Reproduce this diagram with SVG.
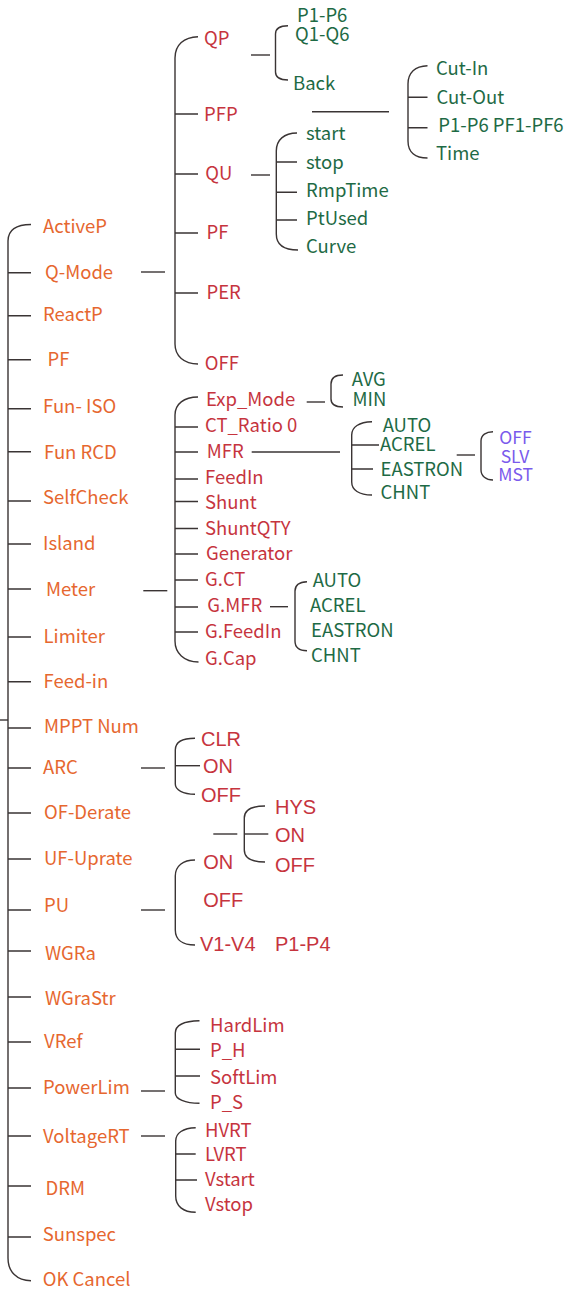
<svg xmlns="http://www.w3.org/2000/svg" width="568" height="1294" viewBox="0 0 568 1294">
<style>
text{font-family:"Noto Sans CJK SC","Noto Sans",sans-serif;font-size:18.5px}
.m{fill:#E6672F}
.r{fill:#C6343E}
.g{fill:#1E6A45}
.p{fill:#7A5AEC;font-size:17.5px}
.a{fill:#C6343E;font-family:"Liberation Sans",Arial,sans-serif;font-size:20px}
.l{fill:none;stroke:#3a3434;stroke-width:1.4}
</style>
<rect width="568" height="1294" fill="#fff"/>
<g id="connectors" class="l">
<path d="M31,224.5 C16,224.5 8,230 8,241 V1258 C8,1272 17,1280.7 31,1280.7"/>
<path d="M0,720 H8"/>
<path d="M8,272.7 H31 M8,315.7 H31 M8,359.7 H31 M8,408.7 H31 M8,451.7 H31 M8,501 H31 M8,544 H31 M8,589 H31 M8,637 H31 M8,681.7 H31 M8,728 H31 M8,768 H31 M8,813 H31 M8,859 H31 M8,910 H31 M8,951 H31 M8,997 H31 M8,1042 H31 M8,1088 H31 M8,1136 H31 M8,1186 H31 M8,1237 H31"/>
<path d="M141,272 H165"/>
<path d="M198,36.7 C184,37 175,45 175,58 V344 C175,356 184,364 198,364"/>
<path d="M175,114 H198 M175,174 H198 M175,233 H198 M175,293 H198"/>
<path d="M251,55 H270"/>
<path d="M288,25.7 C280,25.7 275.5,28 275.5,34 V72 C275.5,77 280,80 288,80"/>
<path d="M312,111.7 H389"/>
<path d="M427.5,65.7 C415,66 408,73 408,84 V141 C408,152 415,158 427.5,158"/>
<path d="M408,97.3 H427.5 M408,127.7 H427.5"/>
<path d="M251,175 H270"/>
<path d="M297,133 C284,133 276.3,140 276.3,151 V234 C276.3,245 284,250 298,250"/>
<path d="M276.3,162 H297 M276.3,192.3 H297 M276.3,220 H297"/>
<path d="M143.3,590.7 H167.3"/>
<path d="M198,397 C184,397 175,404 175,415 V641 C175,653 184,662 198.5,662"/>
<path d="M175,427 H198 M175,452 H198 M175,479 H198 M175,501.5 H198 M175,528.5 H198 M175,554 H198 M175,580 H198 M175,607 H198 M175,632 H198"/>
<path d="M306.7,402 H325"/>
<path d="M343,375 C335,375 331,378 331,384 V399 C331,404 335,407 343,407"/>
<path d="M251.7,452 H340"/>
<path d="M372,421.7 C359,422 351.7,427 351.7,435 V482 C351.7,490 359,495 372,495"/>
<path d="M351.7,445 H379 M351.7,469 H373"/>
<path d="M456.7,455 H475"/>
<path d="M493,431.7 C486,431.7 481,435 481,441 V470 C481,476 486,480 493,480"/>
<path d="M270,606.7 H288"/>
<path d="M307,581.7 C299,582 295,585 295,591 V641 C295,647 299,650.7 307,650.7"/>
<path d="M141,768 H165"/>
<path d="M195,738.3 C183,738.3 175.3,742 175.3,750 V784 C175.3,790 183,794.3 195,794.3"/>
<path d="M175.3,765.7 H200"/>
<path d="M213.3,834 H237.3"/>
<path d="M265,806 C252,806 244.3,810 244.3,818 V850 C244.3,858 252,862 265,862"/>
<path d="M244.3,834 H268.3"/>
<path d="M141,910 H165"/>
<path d="M195,860 C183,860 175.3,866 175.3,876 V930 C175.3,940 183,945 195,945"/>
<path d="M141,1091 H165"/>
<path d="M199.5,1020.7 C185,1021 175.3,1025 175.3,1033 V1093 C175.3,1099 185,1103.3 199.5,1103.3"/>
<path d="M175.3,1049.3 H200 M175.3,1076 H200"/>
<path d="M141,1136 H165"/>
<path d="M195.7,1127.7 C183,1128 175.7,1133 175.7,1141 V1196 C175.7,1206 183,1212.3 195.7,1212.3"/>
<path d="M175.7,1154 H195.7 M175.7,1180 H197"/>
</g>
<g id="main">
<g id="n-activep"><text class="m" x="43" y="233">ActiveP</text></g>
<g id="n-qmode"><text class="m" x="45" y="279">Q-Mode</text></g>
<g id="n-reactp"><text class="m" x="43" y="321">ReactP</text></g>
<g id="n-pf"><text class="m" x="47.5" y="366">PF</text></g>
<g id="n-funiso"><text class="m" x="43" y="413">Fun- ISO</text></g>
<g id="n-funrcd"><text class="m" x="44" y="459">Fun RCD</text></g>
<g id="n-selfcheck"><text class="m" x="43" y="504">SelfCheck</text></g>
<g id="n-island"><text class="m" x="43" y="550">Island</text></g>
<g id="n-meter"><text class="m" x="46" y="596">Meter</text></g>
<g id="n-limiter"><text class="m" x="43.5" y="643">Limiter</text></g>
<g id="n-feedin"><text class="m" x="43.5" y="688">Feed-in</text></g>
<g id="n-mppt"><text class="m" x="44" y="733">MPPT Num</text></g>
<g id="n-arc"><text class="m" x="43" y="774">ARC</text></g>
<g id="n-ofderate"><text class="m" x="44" y="819">OF-Derate</text></g>
<g id="n-ufuprate"><text class="m" x="44" y="865">UF-Uprate</text></g>
<g id="n-pu"><text class="m" x="44" y="912">PU</text></g>
<g id="n-wgra"><text class="m" x="45" y="960">WGRa</text></g>
<g id="n-wgrastr"><text class="m" x="45" y="1005">WGraStr</text></g>
<g id="n-vref"><text class="m" x="44" y="1048">VRef</text></g>
<g id="n-powerlim"><text class="m" x="43" y="1094">PowerLim</text></g>
<g id="n-voltagert"><text class="m" x="43" y="1143">VoltageRT</text></g>
<g id="n-drm"><text class="m" x="45.5" y="1195">DRM</text></g>
<g id="n-sunspec"><text class="m" x="42.7" y="1241">Sunspec</text></g>
<g id="n-okcancel"><text class="m" x="42.7" y="1286">OK Cancel</text></g>
</g>
<g id="qmode-children">
<g id="n-qp"><text class="r" x="204" y="45">QP</text></g>
<g id="n-pfp"><text class="r" x="204" y="120.5">PFP</text></g>
<g id="n-qu"><text class="r" x="205.3" y="180">QU</text></g>
<g id="n-qpf"><text class="r" x="206.5" y="239">PF</text></g>
<g id="n-per"><text class="r" x="206.5" y="299">PER</text></g>
<g id="n-qoff"><text class="r" x="204.7" y="370">OFF</text></g>
</g>
<g id="qp-children">
<g id="n-p1p6"><text class="g" x="297" y="22">P1-P6</text></g>
<g id="n-q1q6"><text class="g" x="295" y="40.5">Q1-Q6</text></g>
<g id="n-back"><text class="g" x="293" y="90">Back</text></g>
</g>
<g id="pfp-children">
<g id="n-cutin"><text class="g" x="436" y="75">Cut-In</text></g>
<g id="n-cutout"><text class="g" x="436.5" y="104">Cut-Out</text></g>
<g id="n-p1p6pf"><text class="g" x="438.3" y="132">P1-P6 PF1-PF6</text></g>
<g id="n-time"><text class="g" x="436" y="160">Time</text></g>
</g>
<g id="qu-children">
<g id="n-start"><text class="g" x="306" y="140">start</text></g>
<g id="n-stop"><text class="g" x="306" y="168.5">stop</text></g>
<g id="n-rmptime"><text class="g" x="306" y="197">RmpTime</text></g>
<g id="n-ptused"><text class="g" x="306" y="224.5">PtUsed</text></g>
<g id="n-curve"><text class="g" x="306" y="253">Curve</text></g>
</g>
<g id="meter-children">
<g id="n-expmode"><text class="r" x="206" y="406">Exp_Mode</text></g>
<g id="n-ctratio"><text class="r" x="205" y="432">CT_Ratio 0</text></g>
<g id="n-mfr"><text class="r" x="206.7" y="458">MFR</text></g>
<g id="n-feedin2"><text class="r" x="205" y="484">FeedIn</text></g>
<g id="n-shunt"><text class="r" x="205" y="509">Shunt</text></g>
<g id="n-shuntqty"><text class="r" x="205" y="535">ShuntQTY</text></g>
<g id="n-generator"><text class="r" x="206" y="560">Generator</text></g>
<g id="n-gct"><text class="r" x="205" y="586">G.CT</text></g>
<g id="n-gmfr"><text class="r" x="207.3" y="612">G.MFR</text></g>
<g id="n-gfeedin"><text class="r" x="205" y="638">G.FeedIn</text></g>
<g id="n-gcap"><text class="r" x="205" y="665">G.Cap</text></g>
</g>
<g id="expmode-children">
<g id="n-avg"><text class="g" x="351.7" y="386">AVG</text></g>
<g id="n-min"><text class="g" x="352.5" y="406">MIN</text></g>
</g>
<g id="mfr-children">
<g id="n-auto"><text class="g" x="382.7" y="432">AUTO</text></g>
<g id="n-acrel"><text class="g" x="380" y="451">ACREL</text></g>
<g id="n-eastron"><text class="g" x="380.5" y="476">EASTRON</text></g>
<g id="n-chnt"><text class="g" x="380.5" y="499">CHNT</text></g>
</g>
<g id="eastron-children">
<g id="n-off-p"><text class="p" x="499.3" y="444">OFF</text></g>
<g id="n-slv"><text class="p" x="500.7" y="463">SLV</text></g>
<g id="n-mst"><text class="p" x="498.3" y="481">MST</text></g>
</g>
<g id="gmfr-children">
<g id="n-gauto"><text class="g" x="312.7" y="587">AUTO</text></g>
<g id="n-gacrel"><text class="g" x="310" y="612">ACREL</text></g>
<g id="n-geastron"><text class="g" x="311" y="637">EASTRON</text></g>
<g id="n-gchnt"><text class="g" x="311" y="662">CHNT</text></g>
</g>
<g id="arc-children">
<g id="n-clr"><text class="a" x="201" y="746">CLR</text></g>
<g id="n-arc-on"><text class="a" x="203" y="773">ON</text></g>
<g id="n-arc-off"><text class="a" x="201" y="802">OFF</text></g>
</g>
<g id="ofderate-children">
<g id="n-hys"><text class="a" x="275" y="814">HYS</text></g>
<g id="n-of-on"><text class="a" x="275" y="842">ON</text></g>
<g id="n-of-off"><text class="a" x="275" y="872">OFF</text></g>
</g>
<g id="pu-children">
<g id="n-pu-on"><text class="a" x="203.3" y="869">ON</text></g>
<g id="n-pu-off"><text class="a" x="203.3" y="907">OFF</text></g>
<g id="n-v1v4"><text class="a" x="200" y="951">V1-V4</text><text class="a" x="275" y="951">P1-P4</text></g>
</g>
<g id="powerlim-children">
<g id="n-hardlim"><text class="r" x="210" y="1031.7">HardLim</text></g>
<g id="n-ph"><text class="r" x="210" y="1057">P_H</text></g>
<g id="n-softlim"><text class="r" x="210" y="1084">SoftLim</text></g>
<g id="n-ps"><text class="r" x="210" y="1109">P_S</text></g>
</g>
<g id="voltagert-children">
<g id="n-hvrt"><text class="r" x="205" y="1136.7">HVRT</text></g>
<g id="n-lvrt"><text class="r" x="205" y="1160.7">LVRT</text></g>
<g id="n-vstart"><text class="r" x="205" y="1185.7">Vstart</text></g>
<g id="n-vstop"><text class="r" x="205" y="1211">Vstop</text></g>
</g>
</svg>
